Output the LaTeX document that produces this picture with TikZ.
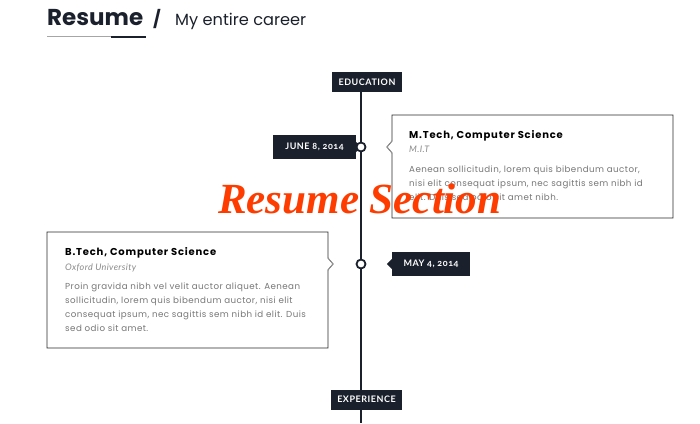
\documentclass[tikz,border=0pt]{standalone}
\usepackage{fontspec}
\setmainfont{Poppins}
\newfontfamily\headfont{Poppins}
\newfontfamily\titlefont[LetterSpace=8]{Poppins}
\newfontfamily\bodyfont[LetterSpace=5]{Poppins}
\newfontfamily\labelfont[Numbers=OldStyle,LetterSpace=6]{Lato}
\newfontfamily\subfont[LetterSpace=4]{Lato}
\newfontfamily\wmfont{Liberation Serif}
\definecolor{navy}{HTML}{1B212C}
\definecolor{bodygray}{HTML}{777777}
\definecolor{subgray}{HTML}{8A8A8A}
\definecolor{boxline}{HTML}{2A2A2A}
\definecolor{notchgray}{HTML}{9A9A9A}
\definecolor{wmred}{HTML}{FF3C00}
\begin{document}
\begin{tikzpicture}[x=1pt,y=-1pt,
  tag/.style={fill=navy,text=white,font=\labelfont\bfseries\fontsize{9}{10}\selectfont,inner sep=0pt,minimum height=20pt},
  card/.style={draw=boxline,line width=0.8pt,fill=white},
  ctitle/.style={anchor=base west,inner sep=0pt,font=\titlefont\bfseries\fontsize{10}{12}\selectfont,text=black},
  csub/.style={anchor=base west,inner sep=0pt,font=\subfont\itshape\fontsize{9}{11}\selectfont,text=subgray},
  cbody/.style={anchor=base west,inner sep=0pt,font=\bodyfont\fontsize{8.7}{10}\selectfont,text=bodygray},
  dot/.style={circle,draw=navy,line width=1.8pt,fill=white,minimum size=9pt,inner sep=0pt}]
\useasboundingbox (0,0) rectangle (700,423);
% header
\node[anchor=base west,inner sep=0pt,font=\headfont\bfseries\fontsize{23}{26}\selectfont,text=navy] (h1) at (47,25) {Resume};
\node[anchor=base west,inner sep=0pt,font=\headfont\bfseries\fontsize{17}{20}\selectfont,text=navy] (h2) at (153,25) {/};
\node[anchor=base west,inner sep=0pt,font=\headfont\fontsize{16.2}{18}\selectfont,text=navy] (h3) at (175,25) {My entire career};
\coordinate (u0) at (47,36.5); \coordinate (u1) at (111,36.5); \coordinate (u2) at (146,36.5);
\draw[line width=0.8pt,color=gray!70] (u0) -- (u1);
\draw[line width=2pt,color=navy] (u1) -- (u2);
% timeline
\node[tag,minimum width=70pt] (edu) at (367,82) {EDUCATION};
\coordinate (tend) at (361,423);
\coordinate (tstart) at (361,92);
\draw[line width=1.3pt,color=navy] (tstart) -- (tend);
\node[tag,minimum width=71pt] (exp) at (366.5,399.5) {EXPERIENCE};
% right card
\draw[card] (392,115) -- (673,115) -- (673,218) -- (392,218) -- (392,153) -- (387,147) -- (392,141) -- cycle;
\coordinate (n1a) at (392,141); \coordinate (n1b) at (387,147); \coordinate (n1c) at (392,153);
\draw[color=notchgray,line width=0.8pt] (n1a) -- (n1b) -- (n1c);
\node[ctitle] (t1) at (409,138) {M.Tech, Computer Science};
\node[csub] (s1) at (409,152.5) {M.I.T};
\node[cbody] (b11) at (409,172) {Aenean sollicitudin, lorem quis bibendum auctor,};
\node[cbody] (b12) at (409,186) {nisi elit consequat ipsum, nec sagittis sem nibh id};
\node[cbody] (b13) at (409,200) {elit. Duis sed odio sit amet nibh.};
% left card
\draw[card] (47,232) -- (328,232) -- (328,258) -- (333,264) -- (328,270) -- (328,348) -- (47,348) -- cycle;
\coordinate (n2a) at (328,258); \coordinate (n2b) at (333,264); \coordinate (n2c) at (328,270);
\draw[color=notchgray,line width=0.8pt] (n2a) -- (n2b) -- (n2c);
\node[ctitle] (t2) at (65,255) {B.Tech, Computer Science};
\node[csub] (s2) at (65,270) {Oxford University};
\node[cbody] (b21) at (65,289) {Proin gravida nibh vel velit auctor aliquet. Aenean};
\node[cbody] (b22) at (65,303) {sollicitudin, lorem quis bibendum auctor, nisi elit};
\node[cbody] (b23) at (65,317) {consequat ipsum, nec sagittis sem nibh id elit. Duis};
\node[cbody] (b24) at (65,331) {sed odio sit amet.};
% date tags
\node[tag,minimum width=83pt,minimum height=24pt] (d1) at (314.5,147) {JUNE 8, 2014};
\fill[navy] (d1.east) ++(0,-5) -- ++(5,5) -- ++(-5,5) -- cycle;
\node[tag,minimum width=78pt,minimum height=24pt] (d2) at (431,264) {MAY 4, 2014};
\fill[navy] (d2.west) ++(0,-5) -- ++(-5,5) -- ++(5,5) -- cycle;
\node[dot] (c1) at (361,147) {};
\node[dot] (c2) at (361,264) {};
% watermark
\node[anchor=base west,inner sep=0pt,font=\wmfont\bfseries\itshape\fontsize{43}{46}\selectfont,text=wmred] (wm) at (218,213) {Resume Section};
\end{tikzpicture}
\end{document}
